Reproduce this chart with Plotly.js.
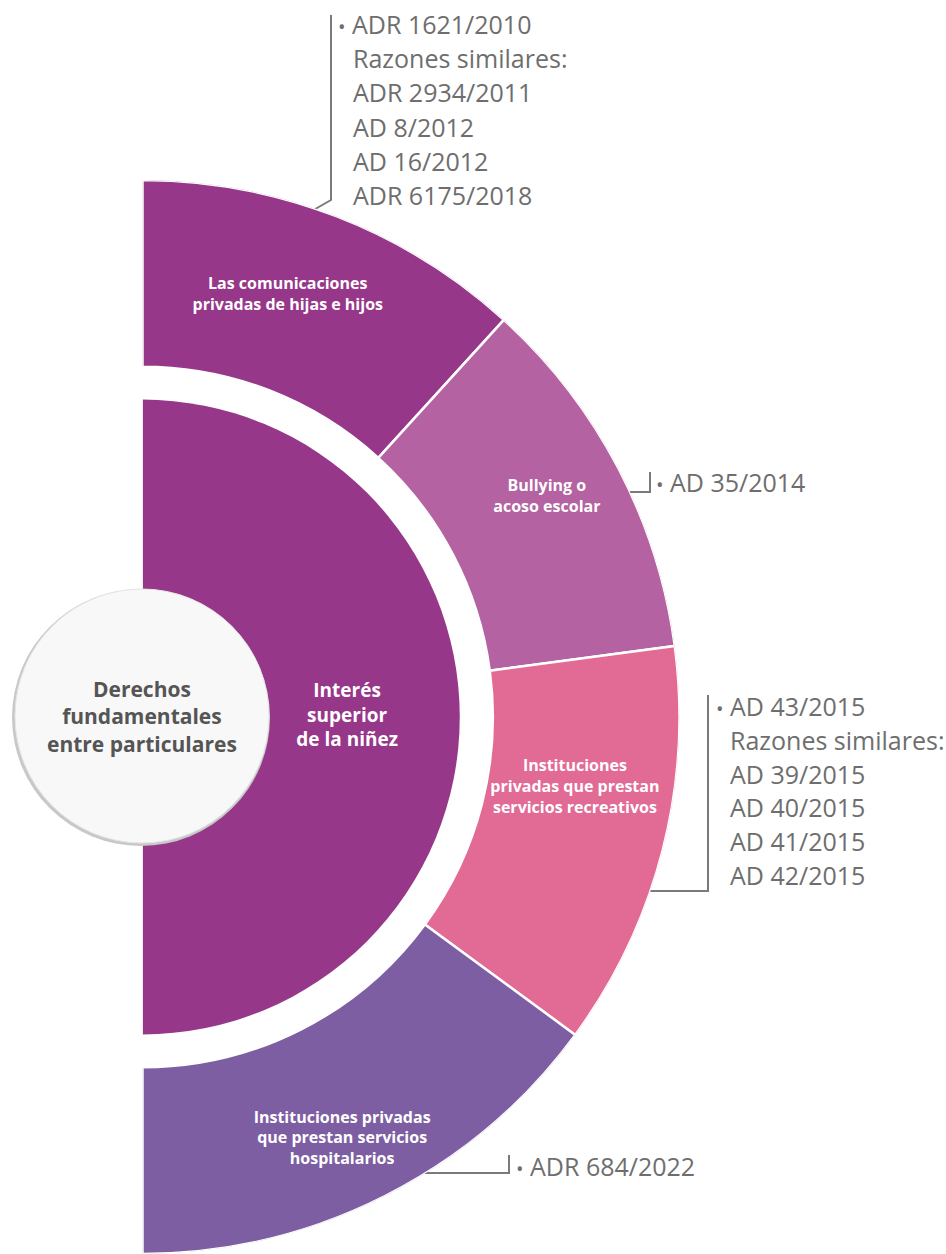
<!DOCTYPE html>
<html>
<head>
<meta charset="utf-8">
<script src="https://cdn.plot.ly/plotly-3.0.1.min.js"></script>
<style>html,body{margin:0;padding:0;background:#fff;}#chart{width:946px;height:1254px;}</style>
</head>
<body>
<div id="chart"></div>
<script>
// ---- data ----
const centerLabel = "Derechos<br>fundamentales<br>entre particulares";
const innerLabel = "Interés<br>superior<br>de la niñez";
const ringLabels = [
  "Las comunicaciones<br>privadas de hijas e hijos",
  "Bullying o<br>acoso escolar",
  "Instituciones<br>privadas que prestan<br>servicios recreativos",
  "Instituciones privadas<br>que prestan servicios<br>hospitalarios"
];
const ringSpans = [42.3, 40.1, 43.9, 53.7];           // angular size of each ring segment (deg)
const ringColors = ["#963789", "#B462A2", "#E26B96", "#7E5EA2"];
const innerColor = "#963789";
const labelR = [447, 461, 439, 468];
const labelTheta = [19, 61.5, 99.3, 154.7];

const callout1 = ["ADR 1621/2010", "Razones similares:", "ADR 2934/2011", "AD 8/2012", "AD 16/2012", "ADR 6175/2018"];
const callout2 = ["AD 35/2014"];
const callout3 = ["AD 43/2015", "Razones similares:", "AD 39/2015", "AD 40/2015", "AD 41/2015", "AD 42/2015"];
const callout4 = ["ADR 684/2022"];

// ---- geometry helpers (pixel -> paper) ----
const W = 946, H = 1254;
const px = x => x / W;
const py = y => 1 - y / H;
const CX = 142, CY = 718, ROUT = 538;
const R_INNER = 318, RING_BASE = 351;

// cumulative theta centers
const thetaCenters = [];
let acc = 0;
ringSpans.forEach(s => { thetaCenters.push(acc + s / 2); acc += s; });

const traces = [
  {
    type: 'barpolar', r: [R_INNER], base: [0], theta: [90], width: [180],
    marker: {color: innerColor, line: {width: 0}}, hoverinfo: 'skip', showlegend: false
  },
  {
    type: 'barpolar', r: ringSpans.map(() => ROUT - RING_BASE), base: ringSpans.map(() => RING_BASE),
    theta: thetaCenters, width: ringSpans,
    marker: {color: ringColors, line: {color: '#ffffff', width: 2.5}}, hoverinfo: 'skip', showlegend: false
  },
  {
    type: 'scatterpolar', mode: 'text', r: labelR, theta: labelTheta, text: ringLabels,
    textfont: {family: 'Open Sans', size: 16, color: '#ffffff', weight: 'bold'},
    textposition: 'middle center', hoverinfo: 'skip', showlegend: false
  },
  {
    type: 'scatterpolar', mode: 'text', r: [205], theta: [90], text: [innerLabel],
    textfont: {family: 'Open Sans', size: 19, color: '#ffffff', weight: 'bold'},
    textposition: 'middle center', hoverinfo: 'skip', showlegend: false
  }
];

const gray = '#6e6e6e';
const lineGray = '#7a7a7a';
const annotations = [];
function addCallout(lines, xBullet, xText, yStart, step) {
  lines.forEach((t, i) => {
    annotations.push({
      xref: 'paper', yref: 'paper', x: px(i === 0 ? xBullet : xText), y: py(yStart + i * step),
      xanchor: 'left', yanchor: 'middle', showarrow: false,
      text: i === 0 ? '<span style="font-size:20px">•</span> ' + t : t,
      font: {family: 'Open Sans', size: 25, color: gray}
    });
  });
}
addCallout(callout1, 336, 351, 24, 34.2);
addCallout(callout2, 654, 669, 482, 34);
addCallout(callout3, 714, 728, 706, 33.8);
addCallout(callout4, 514, 529, 1166, 34);

annotations.push({
  xref: 'paper', yref: 'paper', x: px(CX), y: py(716), xanchor: 'center', yanchor: 'middle',
  showarrow: false, text: centerLabel, align: 'center',
  font: {family: 'Open Sans', size: 21, color: '#555555', weight: 'bold'}
});

function pathOf(pts) {
  return pts.map((p, i) => (i ? 'L' : 'M') + px(p[0]) + ',' + py(p[1])).join(' ');
}
const shapes = [
  {type: 'path', xref: 'paper', yref: 'paper', path: pathOf([[303, 216], [331, 200], [331, 15]]), line: {color: lineGray, width: 2}, layer: 'below'},
  {type: 'path', xref: 'paper', yref: 'paper', path: pathOf([[626, 492], [650, 492], [650, 472]]), line: {color: lineGray, width: 2}, layer: 'below'},
  {type: 'path', xref: 'paper', yref: 'paper', path: pathOf([[650, 891], [708, 891], [708, 695]]), line: {color: lineGray, width: 2}, layer: 'below'},
  {type: 'path', xref: 'paper', yref: 'paper', path: pathOf([[425, 1173], [509, 1173], [509, 1155]]), line: {color: lineGray, width: 2}, layer: 'below'},
  // center circle: shadow then face
  {type: 'circle', xref: 'paper', yref: 'paper', x0: px(CX - 130), x1: px(CX + 128), y0: py(716 + 130), y1: py(716 - 127),
   fillcolor: '#c8c8c8', line: {width: 0}},
  {type: 'circle', xref: 'paper', yref: 'paper', x0: px(CX - 127), x1: px(CX + 127), y0: py(716 + 127), y1: py(716 - 127),
   fillcolor: '#f8f8f8', line: {color: '#e6e6e6', width: 1}}
];

const layout = {
  width: W, height: H, margin: {l: 0, r: 0, t: 0, b: 0},
  paper_bgcolor: '#ffffff', plot_bgcolor: '#ffffff', showlegend: false,
  polar: {
    domain: {x: [px(CX), px(CX + ROUT)], y: [0, py(CY - ROUT)]},
    sector: [-90, 90], hole: 0, bgcolor: 'rgba(0,0,0,0)', barmode: 'overlay', bargap: 0,
    radialaxis: {visible: false, range: [0, ROUT]},
    angularaxis: {visible: false, rotation: 90, direction: 'clockwise'}
  },
  annotations: annotations, shapes: shapes
};
Plotly.newPlot('chart', traces, layout, {displayModeBar: false, staticPlot: true});
</script>
</body>
</html>
